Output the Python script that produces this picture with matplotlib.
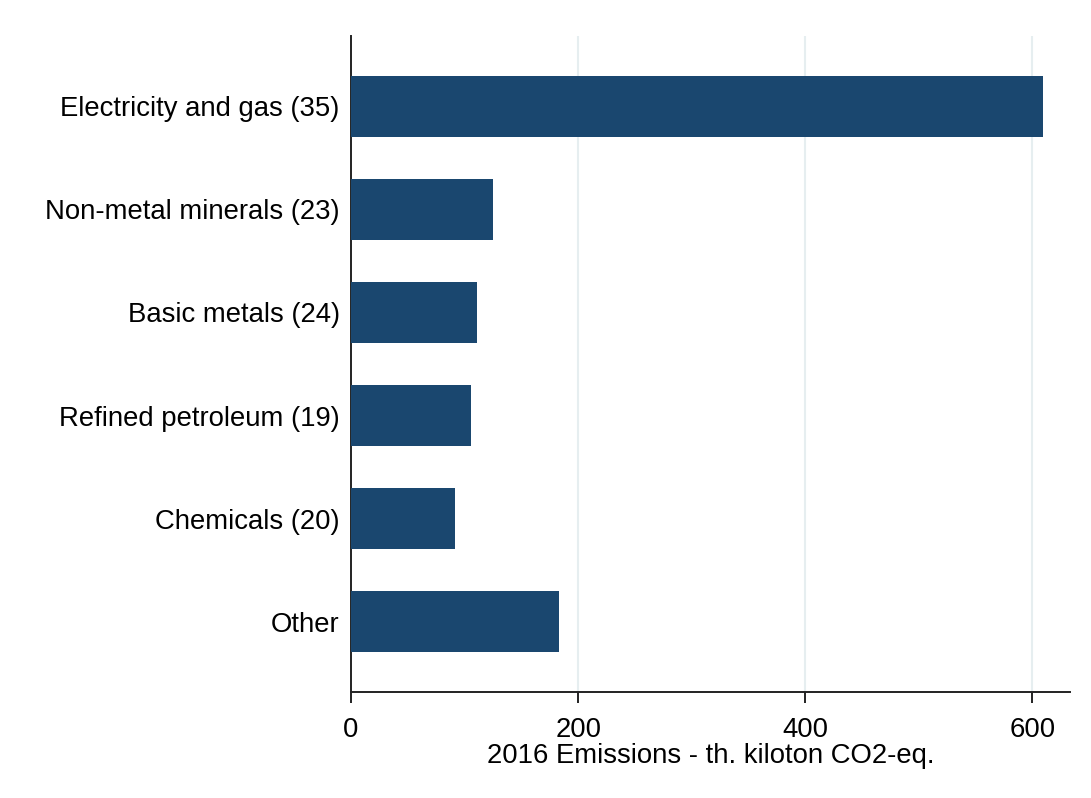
"""2016 emissions by sector - horizontal bar chart"""
import matplotlib
matplotlib.use("Agg")
import matplotlib.pyplot as plt

matplotlib.rcParams["font.family"] = ["Liberation Sans", "DejaVu Sans"]

COLOR_BAR = "#1a476f"
COLOR_GRID = "#e6eef0"

sectors = [
    "Electricity and gas (35)",
    "Non-metal minerals (23)",
    "Basic metals (24)",
    "Refined petroleum (19)",
    "Chemicals (20)",
    "Other",
]
emissions = [609, 125, 111, 106, 92, 183]
x_ticks = [0, 200, 400, 600]

fig = plt.figure(figsize=(10.91, 7.98), dpi=100, facecolor="white")
ax = fig.add_axes([0.3217, 0.1328, 0.6590, 0.8221])

y = list(range(len(sectors)))
ax.barh(y, emissions, height=0.59, color=COLOR_BAR, zorder=3)

ax.set_ylim(5.68, -0.68)
ax.set_xlim(0, 633)
ax.set_yticks(y)
ax.set_yticklabels(sectors, fontsize=19.8)
ax.set_xticks(x_ticks)
ax.set_xticklabels([str(t) for t in x_ticks], fontsize=19.8)

for t in x_ticks[1:]:
    ax.axvline(t, color=COLOR_GRID, lw=1.5, zorder=1)

ax.tick_params(axis="y", length=0, pad=8)
ax.tick_params(axis="x", length=8, width=1.4, pad=10, color="#222222")
ax.spines["top"].set_visible(False)
ax.spines["right"].set_visible(False)
for s in ("left", "bottom"):
    ax.spines[s].set_linewidth(1.4)
    ax.spines[s].set_color("#222222")

ax.set_xlabel("2016 Emissions - th. kiloton CO2-eq.", fontsize=19.8, labelpad=0)

fig.savefig("out.png", dpi=100)
plt.close(fig)
